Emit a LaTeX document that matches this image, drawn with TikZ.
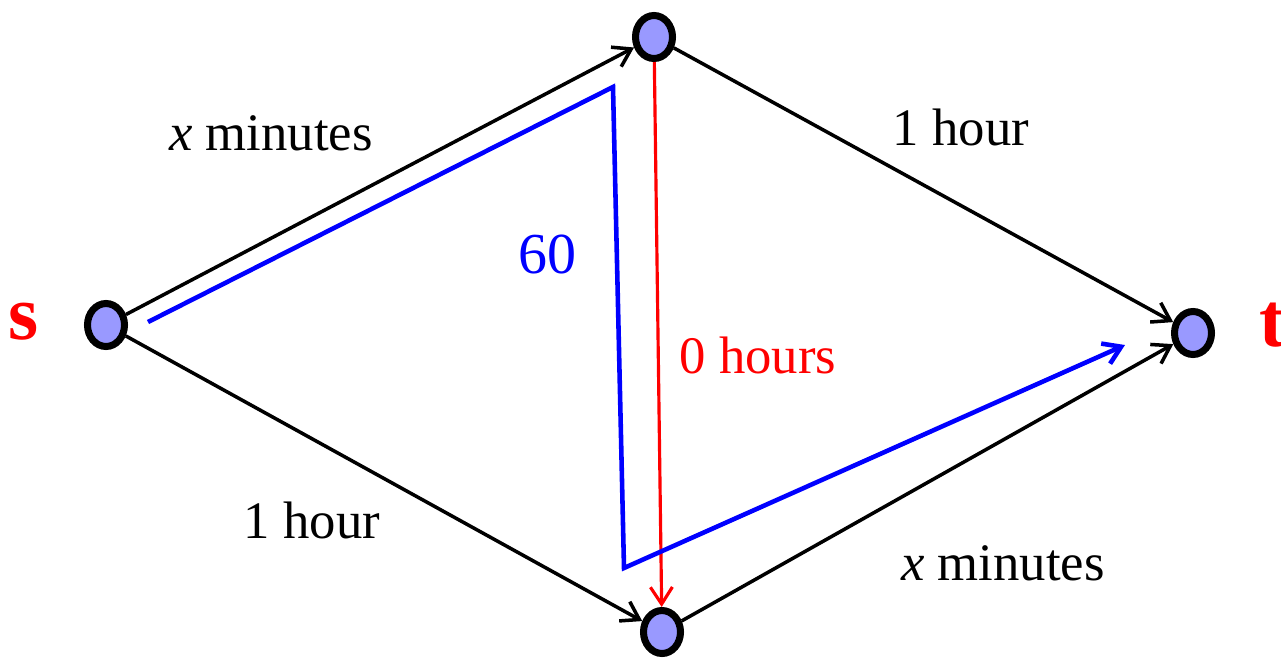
\documentclass[tikz,border=0pt]{standalone}
\usepackage{fontspec}
\setmainfont{Liberation Serif}
\usetikzlibrary{shapes.geometric,arrows.meta}
\definecolor{vfill}{RGB}{153,153,255}
\tikzset{
  vert/.style={draw,ellipse,fill=vfill,line width=4pt,inner sep=0pt,minimum width=0.74cm,minimum height=0.86cm},
  edge/.style={black,line width=2pt,-{Straight Barb[length=0.34cm,width=0.44cm]}},
  lab/.style={font=\fontsize{30}{36}\selectfont}
}
\begin{document}
\begin{tikzpicture}[x=0.02cm,y=-0.02cm]
  \useasboundingbox (0,0) rectangle (1281,659);
  % vertices
  \node[vert] (s) at (106,325) {};
  \node[vert] (u) at (654,37) {};
  \node[vert] (v) at (662,632) {};
  \node[vert] (t) at (1193,333) {};
  \node[text=red,font=\bfseries\fontsize{44}{50}\selectfont] (sl) at (24,322) {s};
  \node[text=red,font=\bfseries\fontsize{44}{50}\selectfont] (tl) at (1272,325) {t};
  % edges
  \draw[edge] (s) -- (u);
  \draw[edge] (u) -- (t);
  \draw[edge] (s) -- (v);
  \draw[edge] (v) -- (t);
  \draw[red,line width=1.8pt,-{Straight Barb[length=0.34cm,width=0.44cm]}] (u) -- (v);
  % flow path
  \coordinate (p0) at (148,322);
  \coordinate (p1) at (613,87);
  \coordinate (p2) at (624,568);
  \coordinate (p3) at (1125,345);
  \draw[blue,line width=2.6pt,line join=miter,-{Straight Barb[length=0.34cm,width=0.44cm]}] (p0) -- (p1) -- (p2) -- (p3);
  % labels
  \node[lab] (l1) at (271,133) {\textit{x} minutes};
  \node[lab] (l2) at (961,127) {1 hour};
  \node[lab] (l3) at (312,520) {1 hour};
  \node[lab] (l4) at (1003,563) {\textit{x} minutes};
  \node[lab,text=blue,font=\fontsize{33}{40}\selectfont] (l5) at (547,255) {60};
  \node[lab,text=red] (l6) at (758,355) {0 hours};
\end{tikzpicture}
\end{document}
